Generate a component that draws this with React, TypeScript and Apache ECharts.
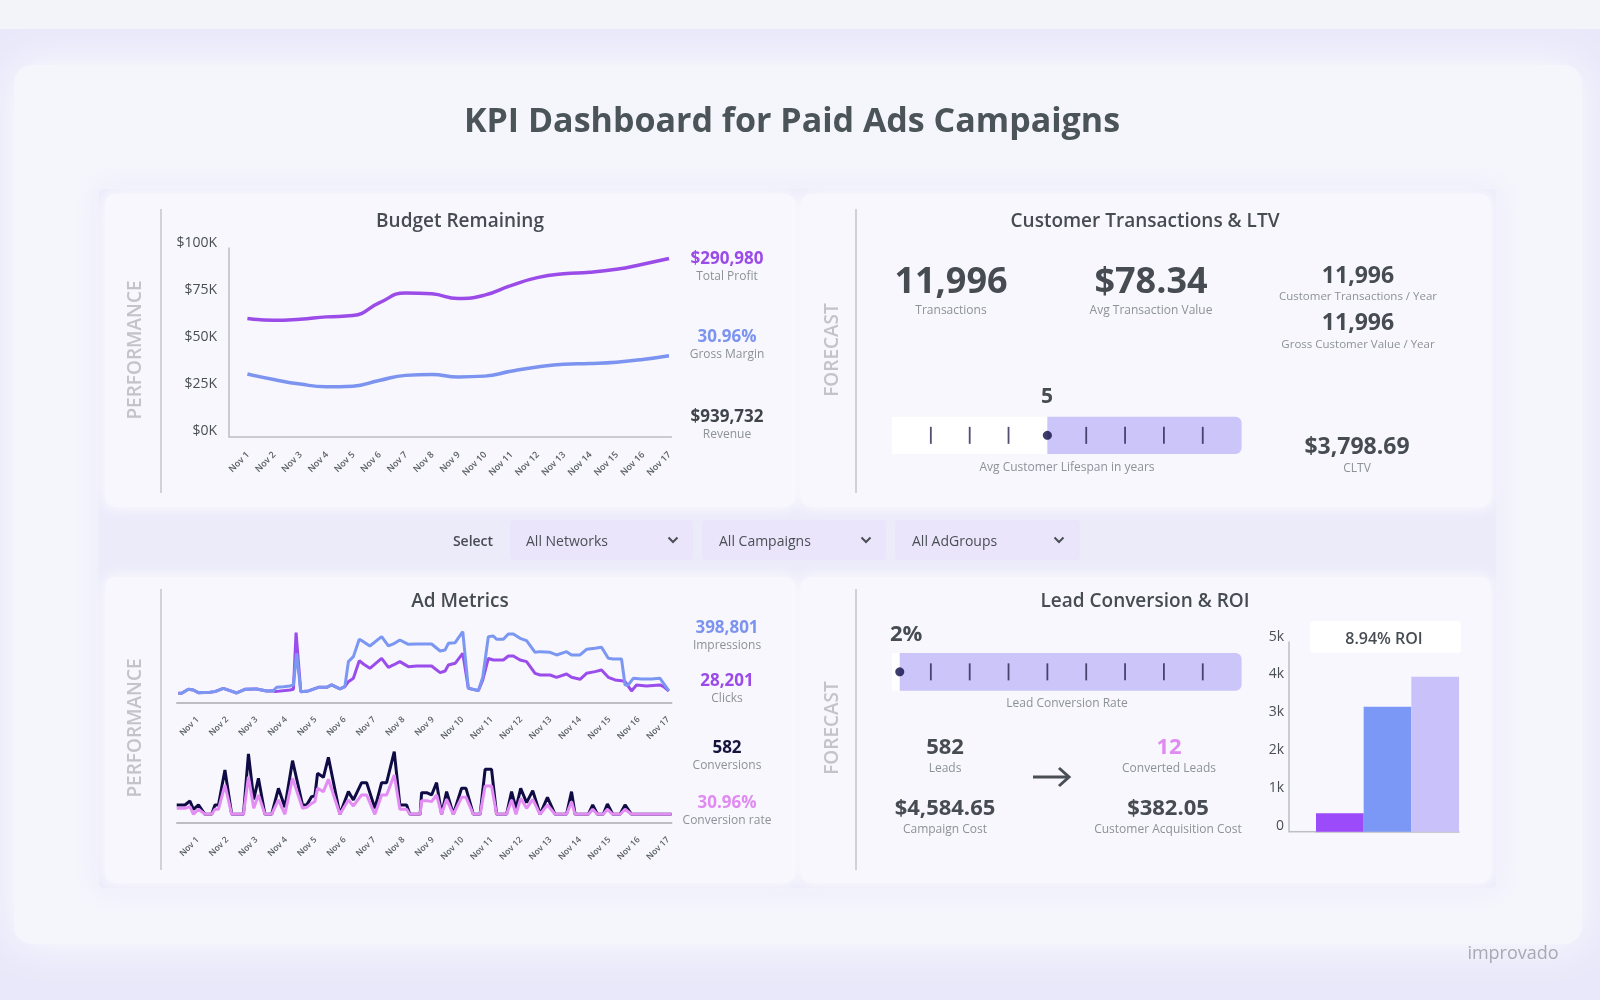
import React, { useEffect, useRef } from 'react';
import * as echarts from 'echarts';

const FONT = "'Open Sans', 'Noto Sans', 'DejaVu Sans', sans-serif";

// ---------------- data ----------------
const dashboardTitle = 'KPI Dashboard for Paid Ads Campaigns';

const days = ['Nov 1', 'Nov 2', 'Nov 3', 'Nov 4', 'Nov 5', 'Nov 6', 'Nov 7', 'Nov 8', 'Nov 9', 'Nov 10', 'Nov 11', 'Nov 12', 'Nov 13', 'Nov 14', 'Nov 15', 'Nov 16', 'Nov 17'];
const dayPositions = days.map((_, i) => i);

// Budget Remaining ($)
const totalProfit = [62600, 61700, 62300, 63500, 64200, 70900, 76200, 75700, 73200, 75000, 80100, 84300, 86400, 87100, 88700, 91400, 94400];
const grossMargin = [33200, 30300, 27900, 26500, 26800, 29800, 32500, 33000, 31700, 32100, 34700, 36900, 38400, 38800, 39500, 40900, 42900];
const budgetMax = 100000;
const budgetStep = 25000;
const budgetKpiValues = ['$290,980', '30.96%', '$939,732'];
const budgetKpiLabels = ['Total Profit', 'Gross Margin', 'Revenue'];

// Ad Metrics: [day offset from Nov 1, value]
const impressions: [number, number][] = [
  [-0.635, 270], [-0.52, 270], [-0.295, 390], [-0.125, 370], [0.045, 290], [0.44, 300], [0.61, 320], [0.895, 420], [1.12, 350], [1.35, 280],
  [1.63, 390], [2.03, 400], [2.37, 340], [2.6, 350], [2.71, 450], [2.94, 470], [3.16, 490], [3.28, 520], [3.39, 1470], [3.53, 320],
  [3.79, 340], [4.13, 450], [4.41, 450], [4.58, 520], [4.86, 400], [5.03, 470], [5.15, 1220], [5.32, 1370], [5.52, 1890], [5.66, 1820],
  [5.88, 1690], [6.28, 1970], [6.51, 1690], [6.68, 1750], [6.9, 1870], [7.19, 1740], [7.47, 1750], [7.98, 1750], [8.27, 1540], [8.44, 1570],
  [8.55, 1770], [8.78, 1790], [9.04, 2120], [9.23, 420], [9.57, 350], [9.72, 750], [9.91, 1970], [10.08, 1990], [10.19, 1890], [10.42, 1890],
  [10.59, 2050], [10.76, 2050], [10.99, 1920], [11.21, 1850], [11.5, 1500], [11.67, 1520], [12.01, 1500], [12.23, 1420], [12.57, 1520], [12.74, 1420],
  [13.03, 1420], [13.25, 1590], [13.54, 1620], [13.76, 1650], [13.99, 1320], [14.16, 1300], [14.44, 1300], [14.56, 520], [14.67, 520], [14.84, 720],
  [15.12, 700], [15.46, 700], [15.75, 720], [15.87, 570], [16.05, 340]
];
const clicks: [number, number][] = [
  [-0.635, 270], [-0.52, 270], [-0.295, 390], [-0.125, 370], [0.045, 290], [0.44, 300], [0.61, 320], [0.895, 420], [1.12, 350], [1.35, 280],
  [1.63, 390], [2.03, 400], [2.37, 340], [2.6, 350], [2.65, 320], [3.16, 370], [3.28, 390], [3.37, 2090], [3.53, 320], [3.79, 340],
  [4.13, 450], [4.41, 450], [4.58, 520], [4.86, 400], [5.03, 470], [5.15, 620], [5.32, 720], [5.52, 1250], [5.66, 1150], [5.88, 1020],
  [6.28, 1320], [6.51, 1050], [6.68, 1120], [6.9, 1220], [7.19, 1070], [7.47, 1090], [7.98, 1090], [8.27, 890], [8.44, 940], [8.55, 1120],
  [8.78, 1170], [9.04, 1470], [9.23, 420], [9.57, 350], [9.72, 670], [9.91, 1320], [10.08, 1270], [10.42, 1270], [10.59, 1390], [10.76, 1390],
  [10.99, 1270], [11.21, 1220], [11.5, 870], [11.67, 820], [12.01, 820], [12.23, 750], [12.57, 850], [12.74, 750], [13.03, 690], [13.25, 870],
  [13.54, 920], [13.76, 970], [13.99, 750], [14.22, 670], [14.44, 650], [14.56, 620], [14.78, 340], [14.95, 520], [15.29, 490], [15.75, 520],
  [15.87, 470], [16.05, 340]
];
const conversions: [number, number][] = [
  [-0.69, 28], [-0.41, 28], [-0.24, 40], [-0.12, 15], [0.05, 28], [0.27, 0], [0.5, 0], [0.61, 28], [0.73, 28], [0.95, 133],
  [1.18, 0], [1.58, 0], [1.75, 181], [1.93, 45], [2.09, 108], [2.31, 0], [2.54, 0], [2.77, 78], [2.99, 21], [3.25, 161],
  [3.59, 28], [3.73, 28], [3.9, 53], [4.01, 55], [4.1, 123], [4.3, 111], [4.47, 171], [4.86, 0], [5.15, 68], [5.32, 43],
  [5.6, 95], [5.77, 95], [6.05, 18], [6.28, 95], [6.45, 95], [6.71, 188], [6.9, 28], [7.13, 28], [7.24, 0], [7.59, 0],
  [7.64, 65], [7.81, 65], [7.98, 58], [8.15, 95], [8.32, 0], [8.49, 68], [8.72, 0], [9.0, 78], [9.15, 78], [9.4, 0],
  [9.63, 0], [9.8, 135], [10.02, 135], [10.19, 0], [10.53, 0], [10.7, 68], [10.85, 18], [11.01, 78], [11.21, 35], [11.42, 71],
  [11.67, 0], [11.92, 51], [12.18, 0], [12.57, 0], [12.74, 68], [12.86, 0], [13.31, 0], [13.46, 28], [13.62, 0], [13.82, 0],
  [13.96, 31], [14.14, 0], [14.39, 0], [14.56, 28], [14.78, 0], [16.14, 0]
];
const conversionRate: [number, number][] = [
  [-0.69, 18], [-0.41, 18], [-0.24, 23], [-0.12, 0], [0.05, 15], [0.27, 0], [0.5, 0], [0.61, 15], [0.73, 15], [0.95, 88],
  [1.18, 0], [1.58, 0], [1.75, 113], [1.93, 18], [2.09, 58], [2.31, 0], [2.54, 0], [2.77, 43], [2.99, 0], [3.25, 108],
  [3.59, 18], [3.73, 21], [3.9, 33], [4.01, 38], [4.1, 78], [4.3, 68], [4.47, 105], [4.86, 0], [5.15, 43], [5.32, 25],
  [5.6, 58], [5.77, 58], [6.05, 0], [6.28, 58], [6.45, 58], [6.71, 118], [6.9, 15], [7.13, 15], [7.24, 0], [7.59, 0],
  [7.64, 41], [7.81, 41], [7.98, 38], [8.15, 58], [8.32, 0], [8.49, 45], [8.72, 0], [9.0, 51], [9.15, 51], [9.4, 0],
  [9.63, 0], [9.8, 85], [10.02, 85], [10.19, 0], [10.53, 0], [10.7, 43], [10.85, 0], [11.01, 48], [11.21, 18], [11.42, 45],
  [11.67, 0], [11.92, 28], [12.18, 0], [12.57, 0], [12.74, 38], [12.86, 0], [13.31, 0], [13.46, 15], [13.62, 0], [13.82, 0],
  [13.96, 15], [14.14, 0], [14.39, 0], [14.56, 15], [14.78, 0], [16.14, 0]
];
const trafficMax = 2700;
const conversionMax = 240;
const adKpiValues = ['398,801', '28,201', '582', '30.96%'];
const adKpiLabels = ['Impressions', 'Clicks', 'Conversions', 'Conversion rate'];

// Customer Transactions & LTV
const ltvMainValues = ['11,996', '$78.34'];
const ltvMainLabels = ['Transactions', 'Avg Transaction Value'];
const ltvSideValues = ['11,996', '11,996'];
const ltvSideLabels = ['Customer Transactions / Year', 'Gross Customer Value / Year'];
const lifespanMin = 1;
const lifespanMax = 10;
const lifespanValue = 5;
const lifespanTicks = [2, 3, 4, 6, 7, 8, 9];
const lifespanLabel = 'Avg Customer Lifespan in years';
const cltvValue = '$3,798.69';
const cltvLabel = 'CLTV';

// Lead Conversion & ROI
const leadMin = 0;
const leadMax = 90;
const leadRate = 2;
const leadTicks = [10, 20, 30, 40, 50, 60, 70, 80];
const leadLabel = 'Lead Conversion Rate';
const leadsValue = '582';
const convertedLeadsValue = '12';
const campaignCostValue = '$4,584.65';
const cacValue = '$382.05';
const roiCategories = ['Customer Acquisition Cost', 'Campaign Cost', 'Revenue'];
const roiValues = [485, 3295, 4085];
const roiMax = 5000;
const roiStep = 1000;
const roiLabel = '8.94% ROI';

const selectors = ['All Networks', 'All Campaigns', 'All AdGroups'];

// ---------------- helpers ----------------
const T = (x: number, y: number, text: string, size: number, color: string, weight: number | string = 400, align = 'center', rotation = 0) => ({
  type: 'text', x, y, rotation, z: 20, silent: true,
  style: {
    text, fill: color, fontSize: size, fontWeight: weight, fontFamily: FONT, lineHeight: Math.round(size * 1.0),
    textAlign: align, textVerticalAlign: 'middle', align, verticalAlign: 'middle'
  }
});
const R = (x: number, y: number, w: number, h: number, fill: string, r: any = 0, z = -10, extra: any = {}) => ({
  type: 'rect', z, silent: true, shape: { x, y, width: w, height: h, r }, style: { fill, ...extra }
});
const L = (x1: number, y1: number, x2: number, y2: number, stroke: string, lineWidth = 1.2, z = 1) => ({
  type: 'line', z, silent: true, shape: { x1, y1, x2, y2 }, style: { stroke, lineWidth }
});

const bulletRender = (colors: string[]) => (params: any, api: any) => {
  const a = api.coord([api.value(0), 1]);
  const b = api.coord([api.value(1), 0]);
  const idx = api.value(2);
  return {
    type: 'rect',
    shape: { x: a[0], y: a[1], width: b[0] - a[0], height: b[1] - a[1], r: idx === 1 ? [0, 6, 6, 0] : 0 },
    style: { fill: colors[idx] }
  };
};

function buildOption(): any {
  const dark = '#464C52';
  const grey = '#8D9298';
  const purple = '#9B4BE8';
  const blue = '#7C94EF';
  const pink = '#E08BF2';
  const navy = '#16133F';
  const axisCol = '#BDBDC5';
  const side = '#C3C3C9';

  const graphics: any[] = [
    R(0, 0, 1600, 1000, '#E8E8FA', 0, -20),
    R(0, 0, 1600, 29, '#F3F3FA', 0, -19),
    R(14, 65, 1568, 879, '#F5F5FC', 18, -18, { shadowBlur: 40, shadowColor: 'rgba(255,255,255,0.95)' }),
    R(99, 189, 1397, 699, '#ECEBFA', 4, -17, { shadowBlur: 26, shadowColor: 'rgba(232,231,250,0.9)' }),
    R(105, 194, 690, 313, '#F7F7FD', 10, -16, { shadowBlur: 14, shadowColor: 'rgba(255,255,255,1)' }),
    R(801, 194, 690, 313, '#F7F7FD', 10, -16, { shadowBlur: 14, shadowColor: 'rgba(255,255,255,1)' }),
    R(105, 577, 690, 306, '#F7F7FD', 10, -16, { shadowBlur: 14, shadowColor: 'rgba(255,255,255,1)' }),
    R(801, 577, 690, 306, '#F7F7FD', 10, -16, { shadowBlur: 14, shadowColor: 'rgba(255,255,255,1)' }),

    T(792, 119, dashboardTitle, 34, '#4A5459', 700),

    // dividers and side labels
    L(161, 209, 161, 493, '#B8B8C0'),
    L(856, 209, 856, 493, '#B8B8C0'),
    L(161, 589, 161, 870, '#B8B8C0'),
    L(856, 589, 856, 870, '#B8B8C0'),
    T(134, 350, 'PERFORMANCE', 19, side, 600, 'center', Math.PI / 2),
    T(831, 350, 'FORECAST', 19, side, 600, 'center', Math.PI / 2),
    T(134, 728, 'PERFORMANCE', 19, side, 600, 'center', Math.PI / 2),
    T(831, 728, 'FORECAST', 19, side, 600, 'center', Math.PI / 2),

    // panel titles
    T(460, 220, 'Budget Remaining', 19, dark, 600),
    T(1145, 220, 'Customer Transactions & LTV', 19, dark, 600),
    T(460, 600, 'Ad Metrics', 19, dark, 600),
    T(1145, 600, 'Lead Conversion & ROI', 19, dark, 600),

    // selectors
    T(473, 540, 'Select', 14, dark, 600),
    R(510, 520, 183, 40, '#EBE5FB', 4, -5),
    R(702, 520, 184, 40, '#EBE5FB', 4, -5),
    R(895, 520, 185, 40, '#EBE5FB', 4, -5),
    T(526, 540, selectors[0], 14, '#4A4F55', 400, 'left'),
    T(719, 540, selectors[1], 14, '#4A4F55', 400, 'left'),
    T(912, 540, selectors[2], 14, '#4A4F55', 400, 'left'),

    // logo
    T(1513, 952, 'improvado', 18, '#A8A8B2', 400),

    // ROI label box and axis extension
    R(1310, 621, 151, 32, '#FFFFFF', 3, -5),
    T(1384, 638, roiLabel, 16, dark, 600),
    L(1289, 831.7, 1316, 831.7, axisCol, 1.5, 5),

    // arrow
    L(1033, 777, 1069, 777, '#4A4F55', 3, 5),
    { type: 'polyline', z: 5, silent: true, shape: { points: [[1059, 768], [1069, 777], [1059, 786]] }, style: { stroke: '#4A4F55', lineWidth: 3, fill: null } }
  ];

  [673, 866, 1059].forEach((cx) => {
    graphics.push({ type: 'polyline', z: 5, silent: true, shape: { points: [[cx - 4.5, 537.5], [cx, 542], [cx + 4.5, 537.5]] }, style: { stroke: '#4A4F55', lineWidth: 2, fill: null } });
  });

  // Budget KPIs
  const budgetColors = [purple, blue, '#3E444A'];
  const budgetYs = [257, 335, 415];
  budgetKpiValues.forEach((v, i) => {
    graphics.push(T(727, budgetYs[i], v, 17, budgetColors[i], 700));
    graphics.push(T(727, budgetYs[i] + 18.5, budgetKpiLabels[i], 12, grey, 400));
  });
  // Ad KPIs
  const adColors = [blue, purple, navy, pink];
  const adYs = [626, 679, 746, 801];
  adKpiValues.forEach((v, i) => {
    graphics.push(T(727, adYs[i], v, 17, adColors[i], 700));
    graphics.push(T(727, adYs[i] + 18.3, adKpiLabels[i], 12, grey, 400));
  });
  // LTV
  graphics.push(T(951, 279, ltvMainValues[0], 36, dark, 700));
  graphics.push(T(951, 309, ltvMainLabels[0], 12, grey, 400));
  graphics.push(T(1151, 279, ltvMainValues[1], 36, dark, 700));
  graphics.push(T(1151, 309, ltvMainLabels[1], 12, grey, 400));
  graphics.push(T(1358, 274, ltvSideValues[0], 23, dark, 700));
  graphics.push(T(1358, 295, ltvSideLabels[0], 11.5, grey, 400));
  graphics.push(T(1358, 321, ltvSideValues[1], 23, dark, 700));
  graphics.push(T(1358, 343, ltvSideLabels[1], 11.5, grey, 400));
  graphics.push(T(1047, 395, String(lifespanValue), 21, dark, 700));
  graphics.push(T(1067, 466, lifespanLabel, 12, grey, 400));
  graphics.push(T(1357, 445, cltvValue, 23, dark, 700));
  graphics.push(T(1357, 467, cltvLabel, 12, grey, 400));
  // Lead
  graphics.push(T(890, 632, leadRate + '%', 22, dark, 700, 'left'));
  graphics.push(T(1067, 702, leadLabel, 12, grey, 400));
  graphics.push(T(945, 745, leadsValue, 22, dark, 700));
  graphics.push(T(945, 767, 'Leads', 12, grey, 400));
  graphics.push(T(1169, 745, convertedLeadsValue, 22, pink, 700));
  graphics.push(T(1169, 767, 'Converted Leads', 12, grey, 400));
  graphics.push(T(945, 806, campaignCostValue, 22, dark, 700));
  graphics.push(T(945, 828, 'Campaign Cost', 12, grey, 400));
  graphics.push(T(1168, 806, cacValue, 22, dark, 700));
  graphics.push(T(1168, 828, 'Customer Acquisition Cost', 12, grey, 400));

  const dayLabel = (v: number) => days[Math.round(v)] || '';
  const timeAxis = (gridIndex: number, min: number, max: number, fontSize: number, margin: number, offset = 0, lineWidth = 1.5) => ({
    gridIndex, type: 'value', min, max, offset,
    axisLine: { show: true, onZero: false, lineStyle: { color: axisCol, width: lineWidth } },
    axisTick: { show: false, customValues: dayPositions },
    splitLine: { show: false },
    axisLabel: { customValues: dayPositions, formatter: dayLabel, rotate: 45, fontSize, fontWeight: 600, color: '#5A6066', margin, fontFamily: FONT }
  });

  return {
    animation: false,
    textStyle: { fontFamily: FONT },
    graphic: { elements: graphics },
    grid: [
      { left: 229, top: 248, width: 442.5, height: 188.7 },
      { left: 177, top: 612.3, width: 494.5, height: 90 },
      { left: 177, top: 734.3, width: 494.5, height: 80 },
      { left: 892, top: 416.7, width: 349.6, height: 37.3 },
      { left: 892, top: 653, width: 349.6, height: 37.7 },
      { left: 1316, top: 642, width: 143, height: 189.7 }
    ],
    xAxis: [
      timeAxis(0, -0.698, 16.095, 9, 16),
      timeAxis(1, -0.68, 16.14, 8.5, 15, 0, 2),
      timeAxis(2, -0.68, 16.14, 8.5, 15, 8.4, 2),
      { gridIndex: 3, type: 'value', min: lifespanMin, max: lifespanMax, show: false },
      { gridIndex: 4, type: 'value', min: leadMin, max: leadMax, show: false },
      {
        gridIndex: 5, type: 'category', data: roiCategories,
        axisLine: { show: true, lineStyle: { color: axisCol, width: 1.5 } },
        axisTick: { show: false }, axisLabel: { show: false }
      }
    ],
    yAxis: [
      {
        gridIndex: 0, type: 'value', min: 0, max: budgetMax, interval: budgetStep,
        axisLine: { show: true, onZero: false, lineStyle: { color: axisCol, width: 1.5 } },
        axisTick: { show: false }, splitLine: { show: false },
        axisLabel: { formatter: (v: number) => '$' + v / 1000 + 'K', fontSize: 14, color: '#4A4F55', verticalAlign: 'bottom', margin: 12 }
      },
      { gridIndex: 1, type: 'value', min: 0, max: trafficMax, show: false },
      { gridIndex: 2, type: 'value', min: 0, max: conversionMax, show: false },
      { gridIndex: 3, type: 'value', min: 0, max: 1, show: false },
      { gridIndex: 4, type: 'value', min: 0, max: 1, show: false },
      {
        gridIndex: 5, type: 'value', min: 0, max: roiMax, interval: roiStep, offset: 27,
        axisLine: { show: true, onZero: false, lineStyle: { color: axisCol, width: 1.5 } },
        axisTick: { show: false }, splitLine: { show: false },
        axisLabel: { formatter: (v: number) => (v === 0 ? '0' : v / 1000 + 'k'), fontSize: 14, color: '#4A4F55', verticalAlign: 'bottom', margin: 5 }
      }
    ],
    series: [
      {
        type: 'line', name: 'Total Profit', xAxisIndex: 0, yAxisIndex: 0, smooth: true, showSymbol: false, silent: true,
        data: totalProfit.map((v, i) => [i, v]), lineStyle: { color: purple, width: 3.5 }, itemStyle: { color: purple }
      },
      {
        type: 'line', name: 'Gross Margin', xAxisIndex: 0, yAxisIndex: 0, smooth: true, showSymbol: false, silent: true,
        data: grossMargin.map((v, i) => [i, v]), lineStyle: { color: blue, width: 3.5 }, itemStyle: { color: blue }
      },
      {
        type: 'line', name: 'Clicks', xAxisIndex: 1, yAxisIndex: 1, showSymbol: false, silent: true,
        data: clicks, lineStyle: { color: '#9A4DEB', width: 3 }, itemStyle: { color: '#9A4DEB' }
      },
      {
        type: 'line', name: 'Impressions', xAxisIndex: 1, yAxisIndex: 1, showSymbol: false, silent: true,
        data: impressions, lineStyle: { color: '#7B97F2', width: 3 }, itemStyle: { color: '#7B97F2' }
      },
      {
        type: 'line', name: 'Conversions', xAxisIndex: 2, yAxisIndex: 2, showSymbol: false, silent: true,
        data: conversions, lineStyle: { color: '#0F0C45', width: 3 }, itemStyle: { color: '#0F0C45' }
      },
      {
        type: 'line', name: 'Conversion rate', xAxisIndex: 2, yAxisIndex: 2, showSymbol: false, silent: true,
        data: conversionRate, lineStyle: { color: '#E38CF4', width: 3 }, itemStyle: { color: '#E38CF4' }
      },
      {
        type: 'custom', xAxisIndex: 3, yAxisIndex: 3, z: 1, silent: true, clip: false,
        renderItem: bulletRender(['#FFFFFF', '#CBC5FA']),
        data: [[lifespanMin, lifespanValue, 0], [lifespanValue, lifespanMax, 1]]
      },
      {
        type: 'scatter', xAxisIndex: 3, yAxisIndex: 3, z: 5, silent: true, symbol: 'rect', symbolSize: [1.8, 17],
        itemStyle: { color: '#25224F' }, data: lifespanTicks.map((t) => [t, 0.5])
      },
      {
        type: 'scatter', xAxisIndex: 3, yAxisIndex: 3, z: 6, silent: true, symbol: 'circle', symbolSize: 9,
        itemStyle: { color: '#0E0B45' }, data: [[lifespanValue, 0.5]]
      },
      {
        type: 'custom', xAxisIndex: 4, yAxisIndex: 4, z: 1, silent: true, clip: false,
        renderItem: bulletRender(['#FFFFFF', '#CBC5FA']),
        data: [[leadMin, leadRate, 0], [leadRate, leadMax, 1]]
      },
      {
        type: 'scatter', xAxisIndex: 4, yAxisIndex: 4, z: 5, silent: true, symbol: 'rect', symbolSize: [1.8, 17],
        itemStyle: { color: '#25224F' }, data: leadTicks.map((t) => [t, 0.5])
      },
      {
        type: 'scatter', xAxisIndex: 4, yAxisIndex: 4, z: 6, silent: true, symbol: 'circle', symbolSize: 9,
        itemStyle: { color: '#0E0B45' }, data: [[leadRate, 0.5]]
      },
      {
        type: 'bar', xAxisIndex: 5, yAxisIndex: 5, silent: true, barWidth: '100%', barCategoryGap: '0%',
        data: roiValues.map((v, i) => ({ value: v, itemStyle: { color: ['#9B4BFA', '#7C98F6', '#C9C2FA'][i] } }))
      }
    ]
  };
}

export default function App() {
  const ref = useRef<HTMLDivElement>(null);
  useEffect(() => {
    if (!ref.current) return;
    const chart = echarts.init(ref.current, undefined, { renderer: 'svg' });
    chart.setOption(buildOption());
    return () => chart.dispose();
  }, []);
  return <div ref={ref} style={{ position: 'fixed', left: 0, top: 0, width: 1600, height: 1000 }} />;
}
